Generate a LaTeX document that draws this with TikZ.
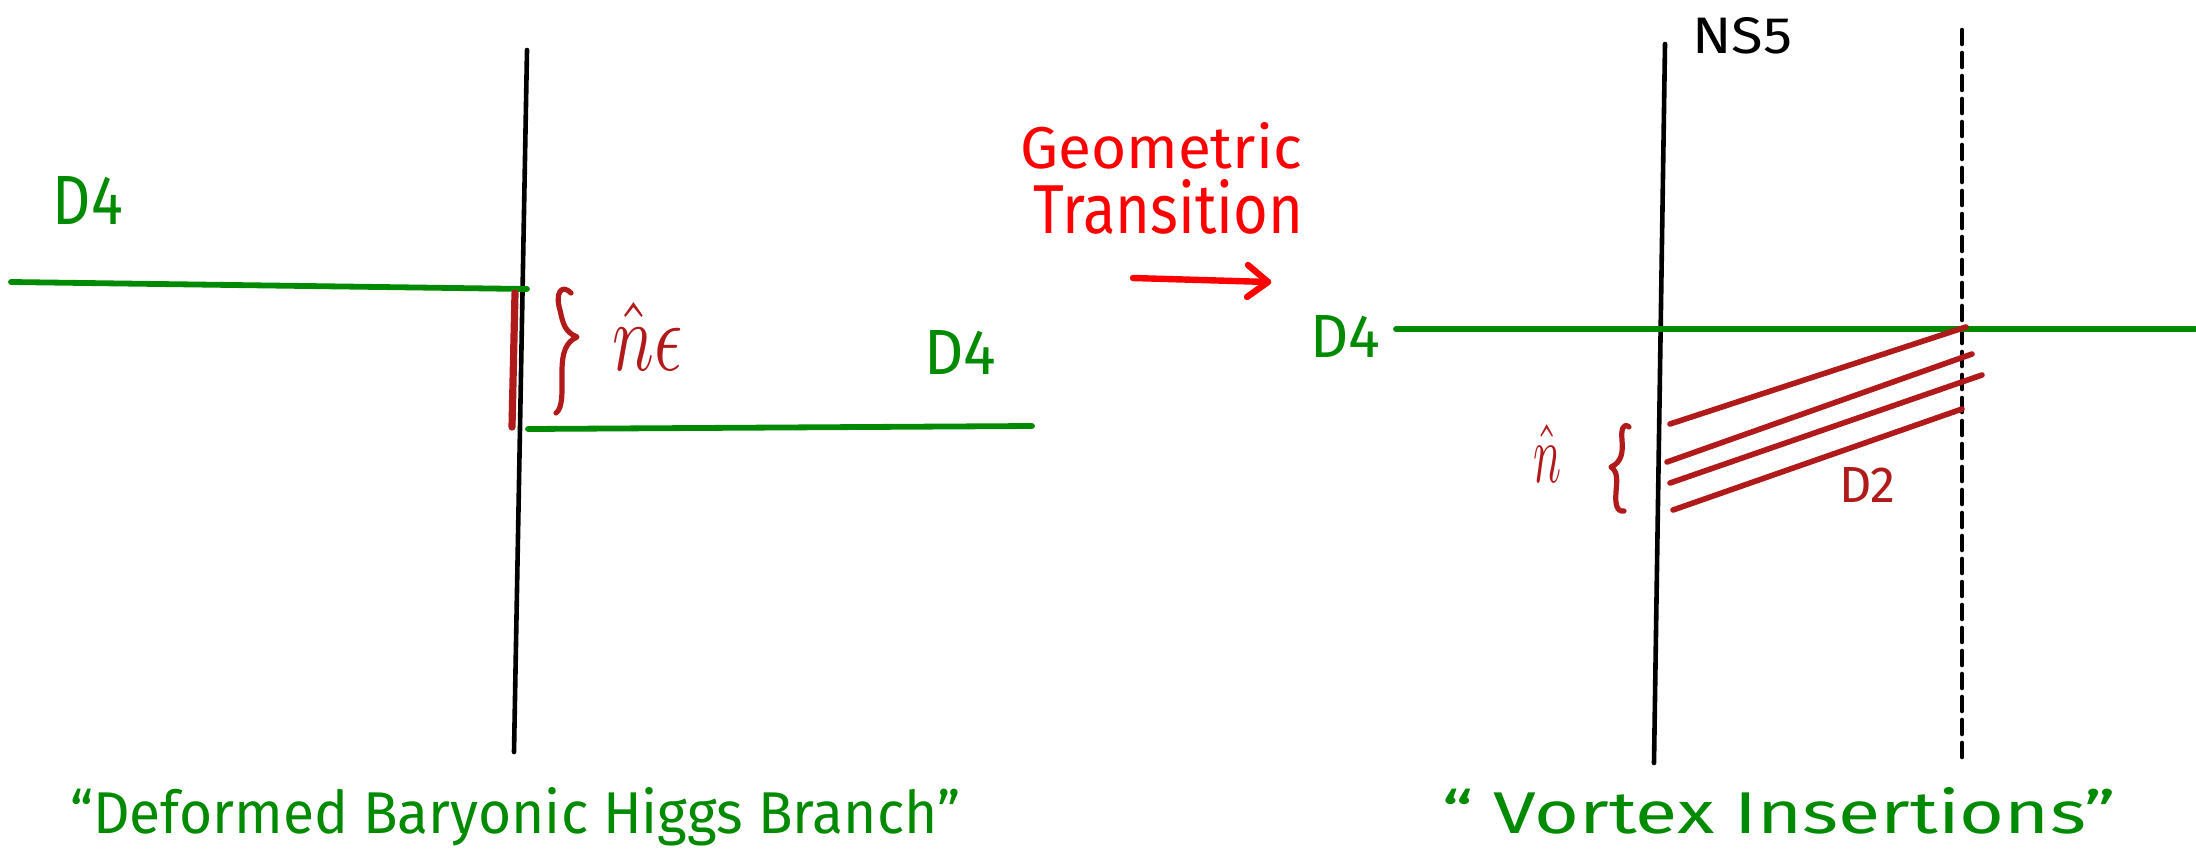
\documentclass[tikz,border=0pt]{standalone}
\usepackage{fontspec}
\setmainfont{Fira Sans}
\definecolor{dgreen}{RGB}{0,138,0}
\definecolor{dred}{RGB}{176,26,26}
\definecolor{bred}{RGB}{255,0,0}
\newcommand{\fitwh}[3]{\resizebox{#1}{#2}{#3}}
\begin{document}
\begin{tikzpicture}[x=0.5pt,y=-0.5pt,line cap=round,line join=round,
  nsline/.style={black,line width=2.3pt},
  dfour/.style={dgreen,line width=2.9pt},
  dtwo/.style={dred,line width=2.8pt},
  bracestyle/.style={dred,line width=2.6pt},
  lbl/.style={inner sep=0pt,outer sep=0pt},
  greentxt/.style={lbl,text=dgreen},
  redtxt/.style={lbl,text=dred}]
\useasboundingbox (0,0) rectangle (2196,852);
% ---------- left diagram ----------
\coordinate (nsLt) at (527,50);
\coordinate (nsLb) at (514,752);
\coordinate (gUa) at (11,282);
\coordinate (gUb) at (527,289);
\coordinate (gLa) at (528,429);
\coordinate (gLb) at (1032,426);
\coordinate (rVa) at (515,293);
\coordinate (rVb) at (512,427);
\draw[nsline] (nsLt) -- (nsLb);
\draw[dfour] (gUa) -- (gUb);
\draw[dfour] (gLa) -- (gLb);
\draw[dred,line width=3.6pt] (rVa) -- (rVb);
\draw[bracestyle] (571,293) .. controls (561,283) and (555,294) .. (560,310)
  .. controls (563,324) and (565,332) .. (577,337)
  .. controls (566,342) and (562,352) .. (562,372)
  .. controls (562,392) and (563,408) .. (556,413);
\node[redtxt,anchor=base] (neps) at (648,370) {\fitwh{35pt}{34pt}{$\hat{n}\epsilon$}};
\node[greentxt,anchor=base] (dfourA) at (88,224) {\fitwh{35pt}{24pt}{D4}};
\node[greentxt,anchor=base] (dfourB) at (960,374) {\fitwh{36pt}{22pt}{D4}};
\node[greentxt,anchor=base west] (capL) at (70,833) {\fitwh{445pt}{23pt}{“Deformed Baryonic Higgs Branch”}};
% ---------- transition ----------
\node[lbl,text=bred,anchor=base west] (geo) at (1020,168) {\fitwh{141pt}{23pt}{Geometric}};
\node[lbl,text=bred,anchor=base west] (trans) at (1033,233) {\fitwh{135pt}{27pt}{Transition}};
\coordinate (arA) at (1133,278);
\coordinate (arB) at (1268,282);
\coordinate (arU) at (1248,265);
\coordinate (arD) at (1247,297);
\draw[bred,line width=3.2pt] (arA) -- (arB);
\draw[bred,line width=3.2pt] (arU) -- (arB) -- (arD);
% ---------- right diagram ----------
\coordinate (nsRt) at (1665,44);
\coordinate (nsRb) at (1654,763);
\coordinate (dsT) at (1962,30);
\coordinate (dsB) at (1962,763);
\coordinate (gRa) at (1396,329);
\coordinate (gRb) at (2195,329);
\draw[nsline] (nsRt) -- (nsRb);
\draw[black,line width=2.3pt,dash pattern=on 7pt off 4.5pt] (dsT) -- (dsB);
\draw[dfour] (gRa) -- (gRb);
\coordinate (ra1) at (1670,424); \coordinate (rb1) at (1966,327);
\coordinate (ra2) at (1667,462); \coordinate (rb2) at (1972,354);
\coordinate (ra3) at (1670,483); \coordinate (rb3) at (1982,375);
\coordinate (ra4) at (1673,510); \coordinate (rb4) at (1962,409);
\draw[dtwo] (ra1) -- (rb1);
\draw[dtwo] (ra2) -- (rb2);
\draw[dtwo] (ra3) -- (rb3);
\draw[dtwo] (ra4) -- (rb4);
\draw[bracestyle] (1629,427) .. controls (1623,422) and (1621,430) .. (1622,440)
  .. controls (1623,452) and (1622,462) .. (1611,467)
  .. controls (1618,472) and (1617,480) .. (1616,492)
  .. controls (1615,505) and (1617,512) .. (1624,511);
\node[redtxt,anchor=base] (nhat) at (1547,482) {\fitwh{14pt}{29pt}{$\hat{n}$}};
\node[lbl,anchor=base west] (nsfive) at (1692,53) {\fitwh{50pt}{18pt}{NS5}};
\node[greentxt,anchor=base] (dfourC) at (1345,357) {\fitwh{35pt}{21pt}{D4}};
\node[redtxt,anchor=base] (dtwoL) at (1867,502) {\fitwh{28pt}{17.5pt}{D2}};
\node[greentxt,anchor=base west] (capR) at (1442,833) {\fitwh{337pt}{23pt}{“ Vortex Insertions”}};
\end{tikzpicture}
\end{document}
